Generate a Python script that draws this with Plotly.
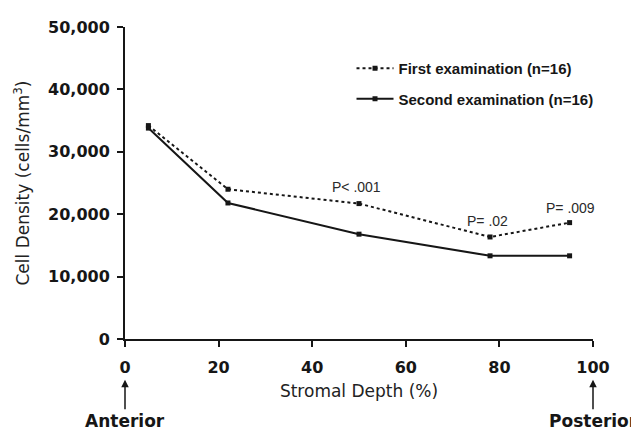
import plotly.graph_objects as go

depth = [5, 22, 50, 78, 95]
first_exam = [34200, 24000, 21700, 16350, 18650]
second_exam = [33800, 21800, 16800, 13330, 13330]
series_names = ["First examination (n=16)", "Second examination (n=16)"]

p_labels = ["P< .001", "P= .02", "P= .009"]
p_x = [49.5, 77.4, 95.2]
p_y = [24300, 18900, 21000]

x_ticks = [0, 20, 40, 60, 80, 100]
y_ticks = [0, 10000, 20000, 30000, 40000, 50000]

ink = "#161616"
arial = "Liberation Sans, Arial, sans-serif"
wide = "DejaVu Sans, sans-serif"

fig = go.Figure()
fig.add_trace(go.Scatter(
    x=depth, y=first_exam, name=series_names[0], mode="lines+markers",
    line=dict(color=ink, width=2, dash="dot"),
    marker=dict(symbol="square", size=5, color=ink),
    legendgroup="a",
))
fig.add_trace(go.Scatter(
    x=depth, y=second_exam, name=series_names[1], mode="lines+markers",
    line=dict(color=ink, width=2),
    marker=dict(symbol="square", size=5, color=ink),
    legendgroup="b",
))

for t, x, y in zip(p_labels, p_x, p_y):
    fig.add_annotation(x=x, y=y, text=t, showarrow=False,
                       font=dict(family=arial, size=14, color="#2a2a2a"))

for t, x in [("Anterior", 0), ("Posterior", 100)]:
    fig.add_annotation(x=x, xref="x", y=-0.131, yref="paper", text=t,
                       showarrow=True, ax=0, ay=41, arrowhead=2, arrowsize=1,
                       arrowwidth=1.5, arrowcolor=ink,
                       font=dict(family=wide, size=17, color=ink, weight="bold"))

# page body has an 8px margin, so the figure is drawn 8px smaller and offset
fig.update_layout(
    width=631, height=426,
    margin=dict(l=117, r=46, t=10, b=95),
    paper_bgcolor="white", plot_bgcolor="white",
    font=dict(family=arial, color=ink),
    showlegend=True,
    legend=dict(x=0.484, y=0.92, xanchor="left", yanchor="top",
                bgcolor="rgba(0,0,0,0)", tracegroupgap=8,
                font=dict(family=arial, size=15, color=ink, weight="bold"),
                itemwidth=37),
    xaxis=dict(range=[0, 100], tickvals=x_ticks, showgrid=False, zeroline=False,
               showline=True, linecolor=ink, linewidth=2, ticks="outside",
               ticklen=6, tickwidth=2, tickcolor=ink, ticklabelstandoff=7,
               tickfont=dict(family=wide, size=16, color=ink, weight="bold"),
               title=dict(text="Stromal Depth (%)", standoff=9,
                          font=dict(family=wide, size=17, color="#222"))),
    yaxis=dict(range=[0, 50000], tickvals=y_ticks, tickformat=",d",
               showgrid=False, zeroline=False,
               showline=True, linecolor=ink, linewidth=2, ticks="outside",
               ticklen=6, tickwidth=2, tickcolor=ink, ticklabelstandoff=4,
               tickfont=dict(family=wide, size=16, color=ink, weight="bold"),
               title=dict(text="Cell Density (cells/mm<sup>3</sup>)", standoff=14,
                          font=dict(family=wide, size=17, color="#222"))),
)

fig.write_html("out.html")
